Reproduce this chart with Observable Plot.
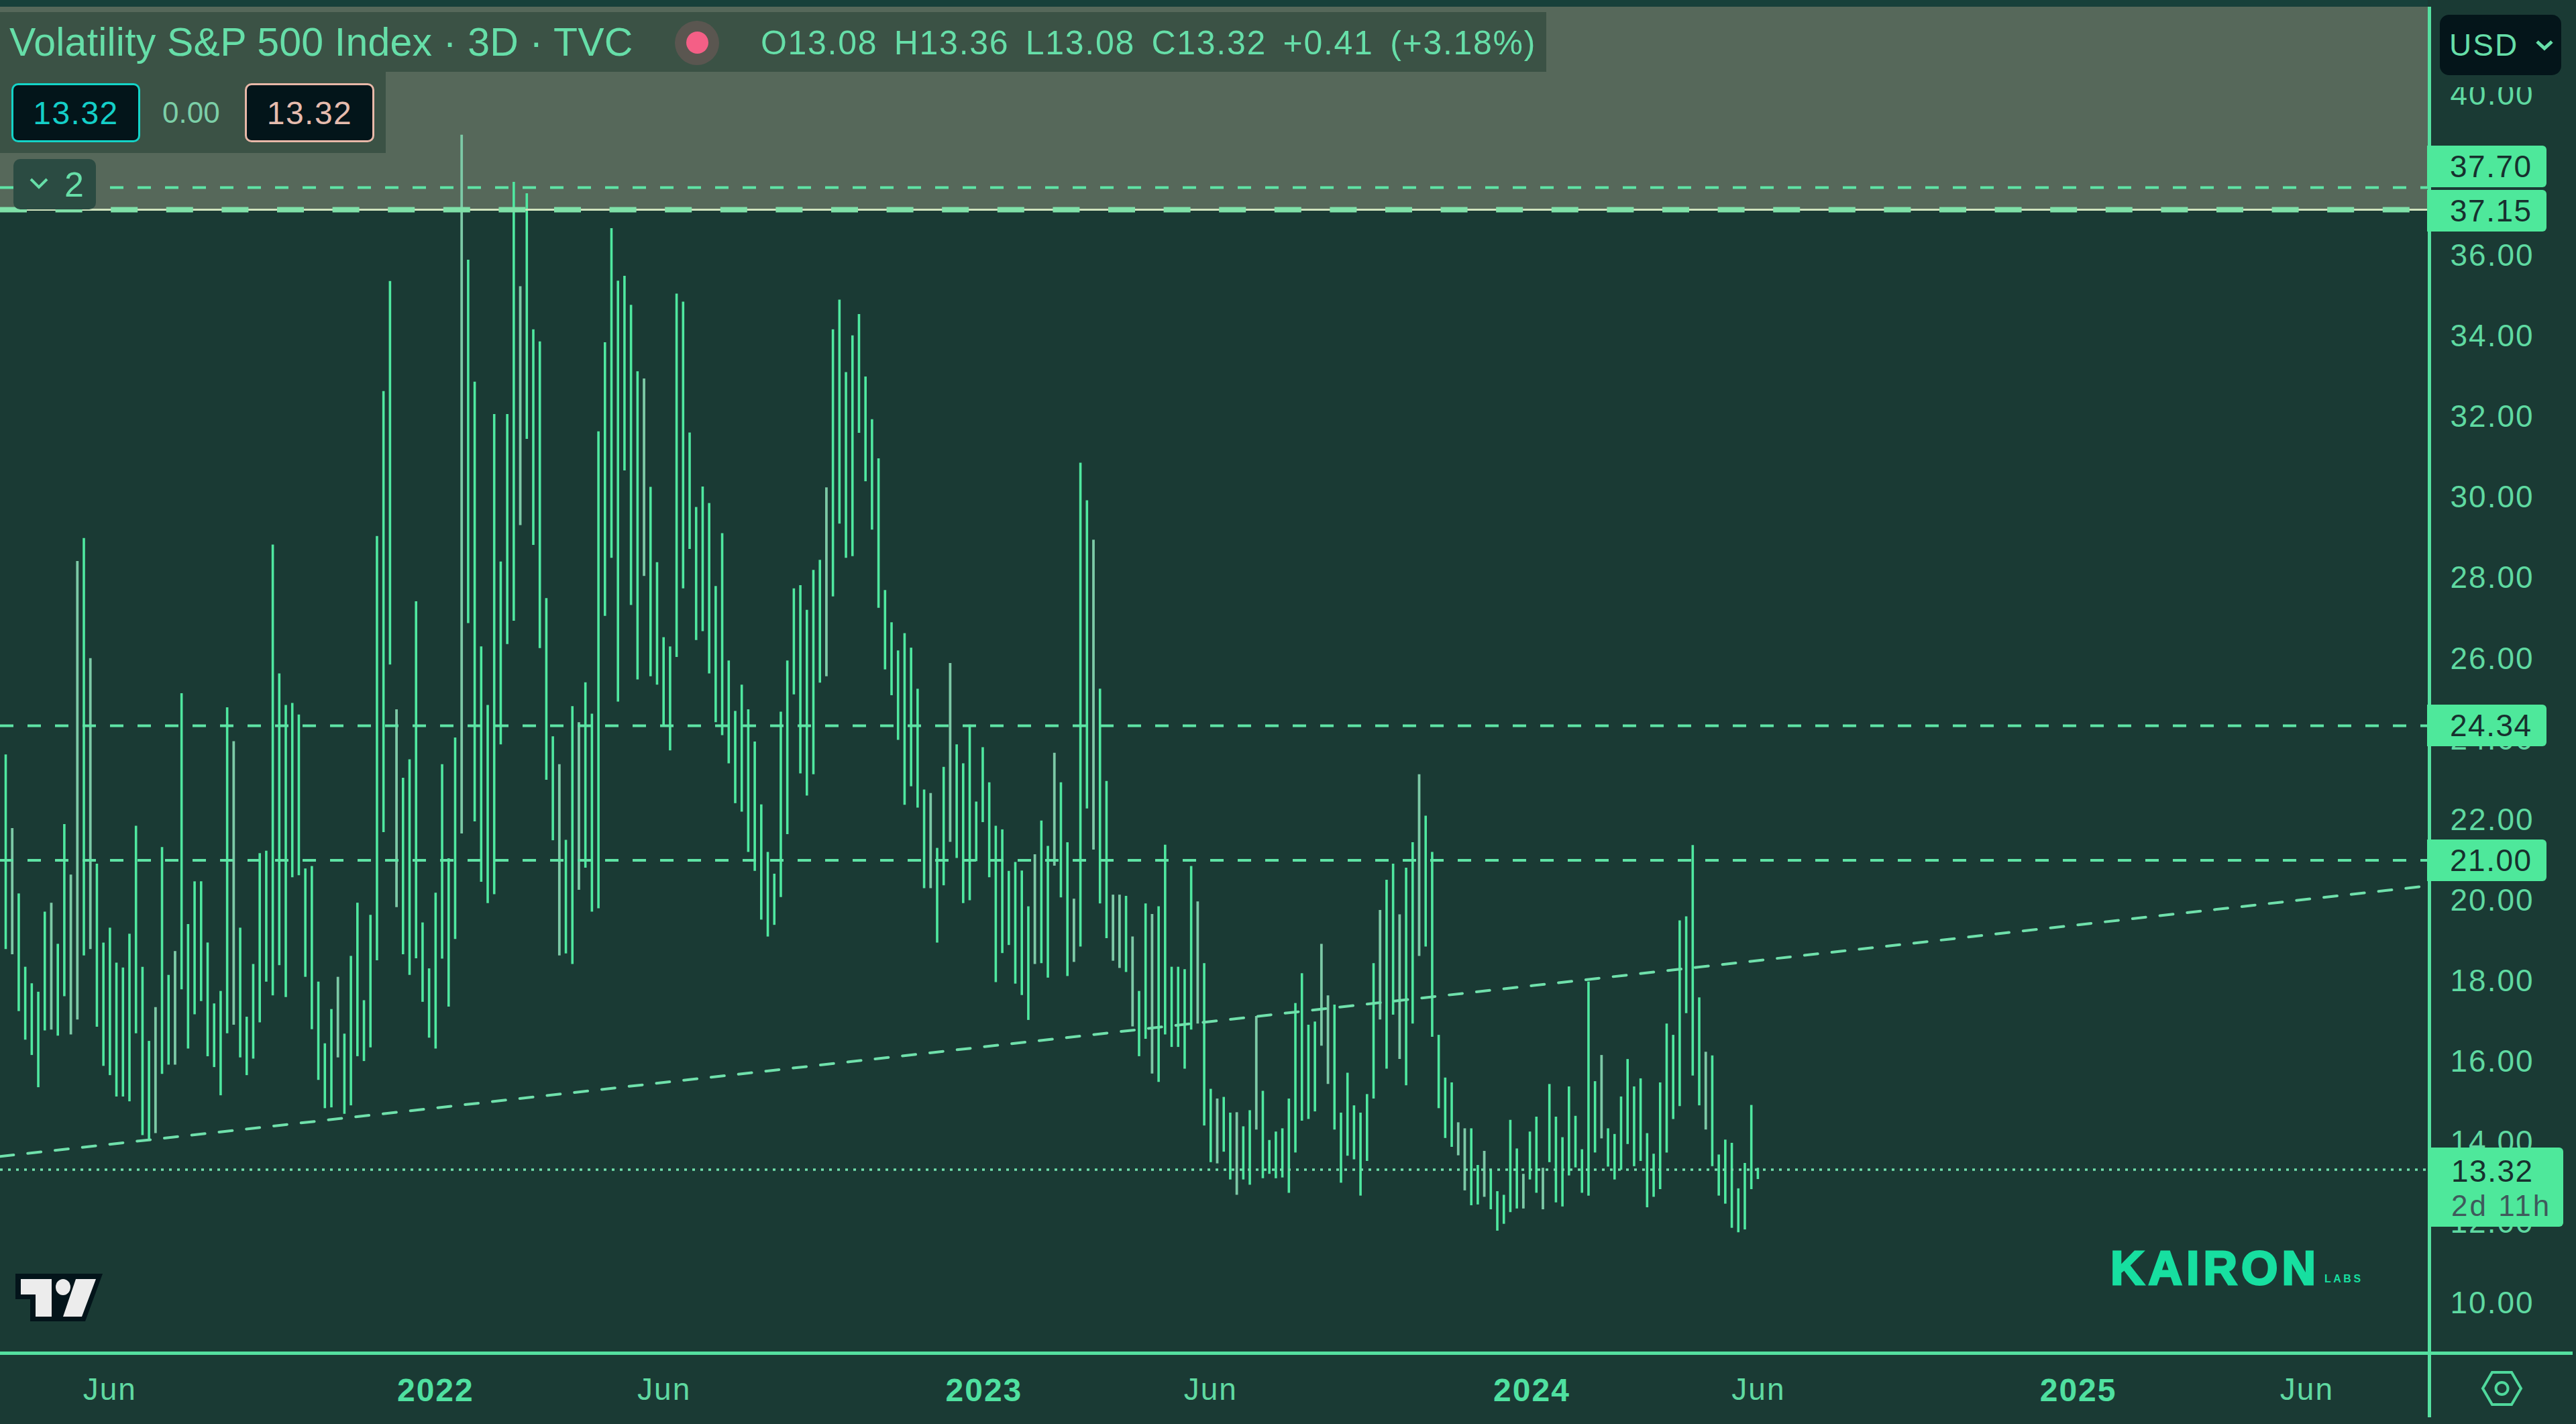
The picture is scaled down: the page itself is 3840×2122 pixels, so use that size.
<!DOCTYPE html>
<html><head><meta charset="utf-8">
<script src="https://cdn.jsdelivr.net/npm/d3@7"></script>
<script src="https://cdn.jsdelivr.net/npm/@observablehq/plot@0.6"></script>
<style>
html,body{margin:0;padding:0;background:#1a3a34;}
#page{position:relative;width:3840px;height:2122px;overflow:hidden;font-family:"Liberation Sans",Arial,sans-serif;background:#1a3a34;}
.abs{position:absolute;white-space:nowrap;}
.tag{position:absolute;left:3618px;width:178px;height:62px;line-height:62px;background:#4ee89b;color:#17302e;font-size:46px;letter-spacing:1.5px;border-radius:0 6px 6px 0;text-indent:34px;}
.pill{position:absolute;top:124px;height:88px;line-height:84px;box-sizing:border-box;border-radius:10px;background:#03151a;font-size:48px;text-align:center;border:3px solid;letter-spacing:1.5px;}
</style></head><body><div id="page"></div>
<script>
const barHigh=[23.62,21.79,20.17,18.35,17.94,17.73,19.72,19.94,18.92,21.89,
20.64,28.42,28.99,26.01,20.91,18.95,19.32,18.45,18.33,19.17,
21.85,18.35,16.51,17.35,21.32,18.15,18.74,25.14,19.41,20.47,
20.47,18.95,17.44,17.75,24.79,23.95,19.32,17.11,18.42,21.17,
21.23,28.83,25.63,24.85,24.9,24.61,20.79,20.85,17.98,16.45,
17.3,18.1,16.69,18.62,19.94,17.52,19.64,29.04,32.64,35.37,
24.74,23.04,23.5,27.42,19.45,18.31,20.19,23.38,21.04,24.04,
39.0,35.9,32.87,26.3,24.85,32.07,28.41,32.07,37.83,35.24,
37.55,34.17,33.87,27.5,24.07,23.38,21.5,24.82,24.42,25.41,
24.63,31.64,33.85,36.68,35.38,35.5,34.78,33.13,32.95,30.26,
28.39,26.53,26.3,35.06,34.86,31.61,29.76,30.27,29.86,27.8,
29.11,25.95,24.7,25.35,24.74,23.94,22.38,21.2,20.66,24.68,
25.95,27.74,27.82,27.21,28.2,28.45,30.25,34.17,34.91,33.11,
34.02,34.55,33.0,31.94,30.97,27.7,26.9,26.2,26.63,26.27,
25.25,22.75,22.66,21.3,23.31,25.89,23.87,23.4,24.36,22.45,
23.8,22.93,21.85,21.76,20.73,20.95,20.74,19.85,21.14,21.98,
21.35,23.66,22.93,21.44,20.04,30.86,29.93,28.95,25.25,22.96,
20.14,20.14,20.11,19.1,17.75,19.92,19.66,19.85,21.38,18.35,
18.35,18.29,20.85,19.97,18.44,15.32,15.08,15.12,14.73,14.74,
14.39,14.79,17.13,15.27,14.05,14.26,14.34,15.08,17.45,18.19,
16.91,16.99,18.92,17.64,17.41,14.73,15.72,14.91,14.73,15.19,
18.44,19.76,20.51,20.91,19.65,20.81,21.44,23.13,22.1,21.2,
16.66,15.6,15.48,14.49,14.34,14.34,13.43,13.78,13.31,12.78,
12.69,14.55,13.84,13.21,14.26,14.63,13.36,15.44,14.63,14.12,
15.38,14.65,13.82,17.98,15.51,16.16,14.34,14.2,15.13,16.06,
15.38,15.58,14.22,13.71,15.48,16.94,16.66,19.5,19.6,21.37,
17.59,16.24,16.15,13.69,14.06,13.98,12.85,13.48,14.92,13.36];
const barLow=[18.79,18.66,17.25,16.54,16.16,15.36,16.77,16.79,16.64,17.62,
16.67,17.04,18.63,18.79,16.86,15.89,15.66,15.13,15.13,15.01,
16.7,14.17,14.06,14.22,15.69,15.92,15.92,17.79,16.32,17.17,
17.5,16.13,15.86,15.16,16.7,16.91,16.1,15.66,16.07,16.97,
17.98,17.64,18.39,17.6,20.57,20.62,18.1,16.8,15.54,14.84,
14.86,16.1,14.7,14.91,16.13,16.01,16.35,18.51,21.69,25.85,
19.83,18.66,18.15,18.56,17.48,16.59,16.32,18.55,17.36,19.04,
21.66,26.88,21.96,20.46,19.93,20.15,23.87,26.36,26.94,29.31,
31.45,28.82,26.26,22.99,21.49,18.63,18.68,18.42,20.26,20.81,
19.72,19.8,27.06,28.5,24.93,30.67,27.33,25.48,28.05,25.56,
25.35,24.33,23.72,26.04,27.74,28.72,26.46,26.68,25.63,24.42,
24.1,23.4,22.41,22.2,21.2,20.73,19.52,19.1,19.39,20.08,
21.64,25.11,23.15,22.6,23.13,25.4,25.56,27.54,29.35,28.5,
28.54,31.6,30.4,29.2,27.26,25.73,25.09,23.98,22.37,22.83,
22.3,20.3,20.3,18.95,20.37,21.45,21.05,19.93,20.0,20.97,
21.94,20.57,17.97,18.69,18.89,17.93,17.65,17.03,18.42,18.44,
18.08,20.86,20.07,18.12,18.47,18.85,22.28,21.26,19.92,19.06,
18.5,18.32,18.22,16.87,16.13,16.56,15.7,15.49,16.67,16.36,
16.36,15.82,16.79,16.94,14.41,13.5,13.47,13.76,13.07,12.69,
13.07,12.94,14.31,13.1,13.21,13.1,13.12,12.74,13.74,14.53,
14.57,14.76,16.39,15.44,14.31,12.99,13.66,13.57,12.67,13.53,
15.08,17.04,15.82,17.16,16.06,15.41,16.94,18.62,18.85,16.61,
14.84,14.1,13.88,13.67,12.8,12.43,12.45,12.64,12.33,11.8,
11.97,12.26,12.35,12.35,13.07,12.74,12.33,13.5,12.5,12.4,
13.17,13.37,12.74,12.67,13.74,14.09,13.39,13.07,13.31,13.95,
13.4,13.53,12.38,12.64,12.83,13.74,14.57,14.89,17.2,15.65,
14.91,14.31,13.4,12.67,12.47,11.87,11.76,11.83,12.83,13.08];
const dullBars=[1,7,10,11,13,23,26,35,51,60,70,79,85,88,98,126,142,145,158,161,164,167,170,171,173,176,183,186,189,192,202,203,211,214,217,223,224,227,233,236,245,261];
const priceTicks=[10,12,14,16,18,20,22,24,26,28,30,32,34,36,40];
const monthBars=[16,101.1,185,269.1,353.3];
const monthLabels=["Jun","Jun","Jun","Jun","Jun"];
const yearBars=[66,150.2,234.3,318.2];
const yearLabels=["2022","2023","2024","2025"];
const levelLines=[37.70,24.34,21.00];
const boxLevel=37.15;
const boxTop=42.18;
const lastPrice=13.32;
const trendEnds=[13.65,20.37];
const xDomain=[-0.824,372];
const yDomain=[8.75,42.345];

const bars=barHigh.map((h,i)=>({i,h,l:barLow[i],dull:dullBars.includes(i)}));
const bright="#4fe8a0",dull="#7cc9a6",axisC="#55e0a0",labelC="#5fd9a1";

const fig=Plot.plot({
  width:3840,height:2122,marginTop:0,marginLeft:0,marginRight:220,marginBottom:105,
  style:{background:"#1a3a34",fontFamily:'"Liberation Sans",Arial,sans-serif',letterSpacing:"2px"},
  x:{domain:xDomain,axis:null},
  y:{domain:yDomain,axis:null},
  marks:[
    Plot.rect([0],{x1:xDomain[0],x2:xDomain[1],y1:boxLevel,y2:boxTop,fill:"#56685a"}),
    Plot.ruleX(bars.filter(d=>!d.dull),{x:"i",y1:"l",y2:"h",stroke:bright,strokeWidth:3.6}),
    Plot.ruleX(bars.filter(d=>d.dull),{x:"i",y1:"l",y2:"h",stroke:dull,strokeWidth:3.8}),
    Plot.ruleY([boxLevel],{x1:xDomain[0],x2:xDomain[1],stroke:"#cfe3bd",strokeWidth:3}),
    Plot.ruleY([boxLevel],{x1:xDomain[0],x2:xDomain[1],stroke:"#7fe0a8",strokeWidth:8,strokeDasharray:"40,42.6"}),
    Plot.ruleY(levelLines,{x1:xDomain[0],x2:xDomain[1],stroke:"#5fe3a5",strokeWidth:4,strokeDasharray:"20,21"}),
    Plot.line(xDomain.map((x,k)=>({x,y:trendEnds[k]})),{x:"x",y:"y",stroke:"#6fe0ab",strokeWidth:4,strokeDasharray:"20,21"}),
    Plot.ruleY([lastPrice],{x1:xDomain[0],x2:xDomain[1],stroke:"#6fe0ab",strokeWidth:3.5,strokeDasharray:"4,8"}),
    Plot.axisY({anchor:"right",ticks:priceTicks,tickSize:0,tickPadding:32,tickFormat:d=>d.toFixed(2),fontSize:46,color:labelC,label:null}),
    Plot.axisX({anchor:"bottom",ticks:monthBars,tickSize:0,tickPadding:36,tickFormat:d=>monthLabels[monthBars.indexOf(d)],fontSize:46,color:labelC,label:null}),
    Plot.axisX({anchor:"bottom",ticks:yearBars,tickSize:0,tickPadding:36,tickFormat:d=>yearLabels[yearBars.indexOf(d)],fontSize:48,fontWeight:"bold",color:"#4fe0a0",label:null})
  ]
});
const page=document.getElementById("page");
page.appendChild(fig);
const yS=v=>fig.scale("y").apply(v);

function add(css,text,cls){const d=document.createElement("div");d.className=cls||"abs";d.style.cssText=css;if(text!==undefined)d.textContent=text;page.appendChild(d);return d;}

// legend bands
add("left:0;top:18px;width:2305px;height:89px;background:#3b5245;");
add("left:0;top:107px;width:575px;height:121px;background:#3b5245;");
add("left:14px;top:27px;font-size:59px;line-height:72px;color:#66dea8;letter-spacing:0.2px;","Volatility S&P 500 Index · 3D · TVC");
add("left:1006px;top:31px;width:66px;height:66px;border-radius:50%;background:#5a5650;");
add("left:1023px;top:47px;width:33px;height:33px;border-radius:50%;background:#f45f86;");
add("left:1134px;top:34px;font-size:50px;line-height:60px;color:#66dea8;letter-spacing:1.7px;word-spacing:9px;","O13.08 H13.36 L13.08 C13.32 +0.41 (+3.18%)");
add("left:17px;width:192px;border-color:#14d4c8;color:#14cfc8;","13.32","pill");
add("left:365px;width:193px;border-color:#e8b8a8;color:#e6bcae;","13.32","pill");
add("left:242px;top:138px;font-size:44px;line-height:60px;color:#7ccfa8;","0.00");
add("left:20px;top:237px;width:123px;height:75px;border-radius:10px;background:#2b4b42;");
add("left:96px;top:247px;font-size:52px;line-height:56px;color:#66dea8;","2");

// axis frame
add("left:3619px;top:10px;width:5px;height:2102px;background:"+axisC+";");
add("left:0;top:2014px;width:3835px;height:5px;background:"+axisC+";");
add("left:3624px;top:0;width:216px;height:130px;background:#1a3a34;");
add("left:0;top:0;width:3619px;height:10px;background:#17403a;");
add("left:3637px;top:22px;width:181px;height:90px;border-radius:14px;background:#04151a;");
add("left:3651px;top:36px;font-size:46px;line-height:62px;color:#66dea8;letter-spacing:2px;","USD");

// price tags
add("top:217px;","37.70","tag");
add("top:283px;","37.15","tag");
[24.34,21.00].forEach(v=>add("top:"+(yS(v)-31)+"px;",v.toFixed(2),"tag"));
add("left:3620px;top:1710px;width:201px;height:118px;background:#4ee89b;border-radius:0 6px 6px 0;");
add("left:3654px;top:1714px;font-size:46px;line-height:62px;color:#17302e;letter-spacing:1.5px;",lastPrice.toFixed(2));
add("left:3654px;top:1766px;font-size:44px;line-height:62px;color:#3f5a5c;letter-spacing:3px;","2d 11h");

// logo
add("left:3146px;top:1850px;font-size:70px;line-height:80px;font-weight:bold;color:#17dfa0;letter-spacing:6px;-webkit-text-stroke:3px #17dfa0;","KAIRON");
add("left:3465px;top:1897px;font-size:16px;line-height:18px;font-weight:bold;color:#17dfa0;letter-spacing:3.5px;","LABS");

// icons
const ns="http://www.w3.org/2000/svg";
const ic=document.createElementNS(ns,"svg");
ic.setAttribute("width",3840);ic.setAttribute("height",2122);
ic.style.cssText="position:absolute;left:0;top:0;pointer-events:none;";
ic.innerHTML=`
<polygon points="23,1898 153,1898 127,1969 45,1969 45,1936 23,1936" fill="#03141a"/>
<polygon points="31,1906 77,1906 77,1962 53,1962 53,1929 31,1929" fill="#ececec"/>
<ellipse cx="94" cy="1918" rx="11" ry="12" fill="#ececec"/>
<polygon points="113,1906 143,1906 122,1962 94,1962" fill="#ececec"/>
<polygon points="3701,2069 3715,2045 3744,2045 3758,2069 3744,2093 3715,2093" fill="none" stroke="#4fd89c" stroke-width="4"/>
<circle cx="3729.5" cy="2069" r="9" fill="none" stroke="#4fd89c" stroke-width="4"/>
<polyline points="3782,62 3793,72 3804,62" fill="none" stroke="#66dea8" stroke-width="5"/>
<polyline points="46,267 58,279 70,267" fill="none" stroke="#66dea8" stroke-width="4"/>`;
page.appendChild(ic);
</script></body></html>
